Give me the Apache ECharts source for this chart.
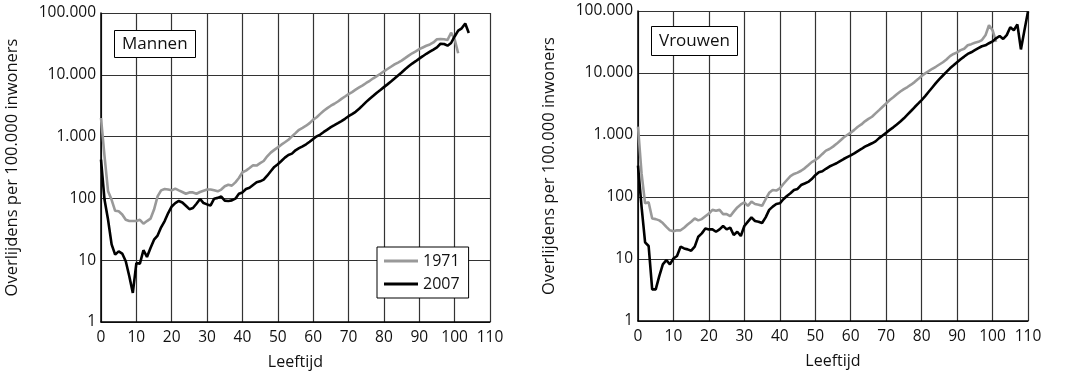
<!DOCTYPE html>
<html>
<head>
<meta charset="utf-8">
<script src="https://cdn.jsdelivr.net/npm/echarts@6/dist/echarts.min.js"></script>
<style>
html,body{margin:0;padding:0;background:#fff;}
#c{width:1070px;height:378px;}
</style>
</head>
<body>
<div id="c"></div>
<script>
// Sterftecijfers per 100.000 inwoners, index = leeftijd (0, 1, 2, ...)
const mannen1971 = [2000,480,130,95,63,62,55,45,43,43,43,45,39,43,47,66,108,135,142,139,
  135,144,135,127,119,125,125,119,127,133,139,139,135,130,139,157,166,161,182,214,
  265,282,310,343,340,372,403,480,550,610,670,740,810,890,1010,1140,1290,1390,1500,1650,
  1880,2060,2330,2620,2890,3160,3400,3700,4080,4450,4870,5250,5740,6260,6750,7380,8000,8780,9550,10400,
  11400,12400,13500,14700,15800,17000,18600,20400,22300,24000,26000,27700,29500,31000,33400,37600,38000,37600,36700,48000,
  37600,22300];
const mannen2007 = [425,95,45,18,12.3,13.9,12.8,9.6,5.5,2.95,9.0,8.8,14.5,11.3,15.8,21.5,25,34,43,58,
  74,84,91,86,76,67,70,82,98,84,80,77,99,102,107,92,91,93,99,119,
  125,142,149,165,182,189,201,233,275,323,357,403,457,505,530,600,650,695,750,825,
  915,1010,1080,1190,1300,1420,1530,1650,1780,1940,2140,2310,2520,2820,3200,3650,4100,4580,5140,5680,
  6320,7000,7780,8700,9750,10900,12300,13700,15200,16600,18300,20000,21900,23700,25600,27800,31800,31500,29600,32700,
  41700,52000,56500,67500,47600];
const vrouwen1971 = [1360,240,79,82,45,44,42,38,33,29,28,29,29,32,36,40,45,42,44,49,
  54,62,60,62,53,53,49,58,68,76,82,72,84,77,75,72,92,117,130,127,
  138,162,188,218,235,247,265,290,325,365,395,435,495,560,595,650,720,810,910,1000,
  1090,1210,1360,1480,1660,1820,1970,2230,2520,2860,3240,3670,4060,4540,5030,5500,5940,6480,7130,7970,
  8950,9860,10700,11700,12600,13700,14900,16500,18700,20300,21500,23400,24600,28000,29200,30700,31800,34000,40500,59000,
  49000,31800];
const vrouwen2007 = [320,70,18.6,16.2,3.24,3.24,5.3,8.2,9.6,8.2,10.2,11.2,15.8,14.8,14.3,13.6,15.8,22.9,25.9,31,
  30,30,27.5,30,34,30,32,24.4,27.5,23.5,34,40,47,41,40,38,47,62,70,77,
  79,92,104,115,130,135,156,165,175,195,225,250,260,285,310,330,350,380,410,440,
  470,505,550,595,650,690,735,790,890,985,1090,1210,1330,1480,1650,1860,2130,2440,2800,3200,
  3660,4240,4980,5840,6850,7950,9120,10400,11900,13300,14900,16700,18400,20300,21600,23300,25100,27000,28000,30200,
  32300,36300,39500,35400,40800,54600,49000,61000,24000,49000,98000];
const seriesNames = ['1971','2007'];
const panelTitles = ['Mannen','Vrouwen'];
const xAxisName = 'Leeftijd';
const yAxisName = 'Overlijdens per 100.000 inwoners';

const toPairs = arr => arr.map((v, i) => [i, v]);
const fmt = v => String(Math.round(v)).replace(/\B(?=(\d{3})+(?!\d))/g, '.');
const FONT = '"Open Sans", "Noto Sans", sans-serif';
const grids = [
  {left: 101, top: 13, width: 389, height: 309},
  {left: 638, top: 11, width: 390, height: 310}
];
function xAxis(i){
  return {
    gridIndex: i, type: 'value', min: 0, max: 110, interval: 10,
    name: xAxisName, nameLocation: 'middle', nameGap: 32,
    nameTextStyle: {fontFamily: FONT, fontSize: 16, color: '#111'},
    axisLine: {show: true, onZero: false, lineStyle: {color: '#000', width: 1.5}},
    axisTick: {show: false},
    axisLabel: {fontFamily: FONT, fontSize: 15.5, color: '#111', margin: 8},
    splitLine: {show: true, lineStyle: {color: '#333', width: 1.2}}
  };
}
function yAxis(i){
  return {
    gridIndex: i, type: 'log', logBase: 10, min: 1, max: 100000,
    name: yAxisName, nameLocation: 'middle', nameGap: 80, nameRotate: 90,
    nameTextStyle: {fontFamily: FONT, fontSize: 16.5, color: '#111'},
    axisLine: {show: true, lineStyle: {color: '#000', width: 1.5}},
    axisTick: {show: false},
    axisLabel: {fontFamily: FONT, fontSize: 15.5, color: '#111', margin: 5, formatter: fmt},
    splitLine: {show: true, lineStyle: {color: '#333', width: 1.2}}
  };
}
function line(name, data, i, color){
  return {
    name: name, type: 'line', xAxisIndex: i, yAxisIndex: i,
    data: toPairs(data), symbol: 'none', smooth: false,
    lineStyle: {color: color, width: 2.6}, itemStyle: {color: color},
    animation: false, z: color === '#000' ? 3 : 2
  };
}
const chart = echarts.init(document.getElementById('c'), null, {renderer: 'canvas'});
chart.setOption({
  backgroundColor: '#fff',
  animation: false,
  grid: grids,
  xAxis: [xAxis(0), xAxis(1)],
  yAxis: [yAxis(0), yAxis(1)],
  title: [
    {text: panelTitles[0], left: 114, top: 30, padding: [5, 8, 4, 8], borderColor: '#000', borderWidth: 1, backgroundColor: '#fff',
     textStyle: {fontFamily: FONT, fontSize: 17, fontWeight: 'normal', color: '#111', lineHeight: 19}},
    {text: panelTitles[1], left: 651, top: 26, padding: [6, 8, 5, 8], borderColor: '#000', borderWidth: 1, backgroundColor: '#fff',
     textStyle: {fontFamily: FONT, fontSize: 17, fontWeight: 'normal', color: '#111', lineHeight: 19}}
  ],
  legend: {
    data: seriesNames.map(n => ({name: n, icon: 'rect'})), orient: 'vertical', left: 377, top: 247,
    padding: [5, 9, 5, 7], itemGap: 5, itemWidth: 34, itemHeight: 3,
    borderColor: '#000', borderWidth: 1, backgroundColor: '#fff',
    textStyle: {fontFamily: FONT, fontSize: 16, color: '#111', lineHeight: 18}
  },
  series: [
    line(seriesNames[0], mannen1971, 0, '#999'),
    line(seriesNames[1], mannen2007, 0, '#000'),
    line(seriesNames[0], vrouwen1971, 1, '#999'),
    line(seriesNames[1], vrouwen2007, 1, '#000')
  ]
});
</script>
</body>
</html>
